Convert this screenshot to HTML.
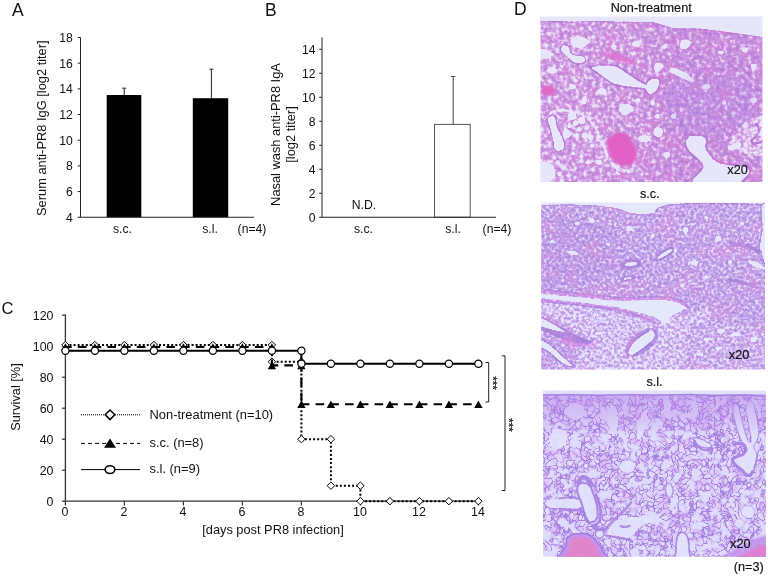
<!DOCTYPE html>
<html lang="en"><head><meta charset="utf-8"><title>Figure</title>
<style>html,body{margin:0;padding:0;background:#fff}body{width:768px;height:576px;overflow:hidden}svg{display:block}svg text{font-family:'Liberation Sans', Arial, sans-serif;fill:#111}</style>
</head><body>
<svg width="768" height="576" viewBox="0 0 768 576">
<rect width="768" height="576" fill="#fff"/>
<g id="chartA">
<text x="12" y="15.5" font-size="17.5" text-anchor="start">A</text>
<rect x="106.7" y="95" width="34.6" height="122.25" fill="#000"/>
<rect x="192.8" y="98.2" width="35.4" height="119.05" fill="#000"/>
<path d="M124.2 95V88.2M122.2 88.2h4" stroke="#222" stroke-width="1" fill="none"/>
<path d="M211.4 98V69.2M209.4 69.2h4" stroke="#222" stroke-width="1" fill="none"/>
<path d="M80.5 37.5V217.25H254" stroke="#222" stroke-width="1" fill="none"/>
<path d="M77.7 37.50H80.5" stroke="#222" stroke-width="1"/>
<text x="72.8" y="41.9" font-size="12.2" text-anchor="end">18</text>
<path d="M77.7 63.18H80.5" stroke="#222" stroke-width="1"/>
<text x="72.8" y="67.58" font-size="12.2" text-anchor="end">16</text>
<path d="M77.7 88.86H80.5" stroke="#222" stroke-width="1"/>
<text x="72.8" y="93.26" font-size="12.2" text-anchor="end">14</text>
<path d="M77.7 114.54H80.5" stroke="#222" stroke-width="1"/>
<text x="72.8" y="118.94" font-size="12.2" text-anchor="end">12</text>
<path d="M77.7 140.21H80.5" stroke="#222" stroke-width="1"/>
<text x="72.8" y="144.61" font-size="12.2" text-anchor="end">10</text>
<path d="M77.7 165.89H80.5" stroke="#222" stroke-width="1"/>
<text x="72.8" y="170.29" font-size="12.2" text-anchor="end">8</text>
<path d="M77.7 191.57H80.5" stroke="#222" stroke-width="1"/>
<text x="72.8" y="195.97" font-size="12.2" text-anchor="end">6</text>
<path d="M77.7 217.25H80.5" stroke="#222" stroke-width="1"/>
<text x="72.8" y="221.65" font-size="12.2" text-anchor="end">4</text>
<text x="122.5" y="233" font-size="12.2" text-anchor="middle">s.c.</text>
<text x="210" y="233" font-size="12.2" text-anchor="middle">s.l.</text>
<text x="252" y="233" font-size="12.2" text-anchor="middle">(n=4)</text>
<text x="46" y="128.2" font-size="12.85" text-anchor="middle" transform="rotate(-90 46 128.2)">Serum anti-PR8 IgG [log2 titer]</text>
</g>
<g id="chartB">
<text x="265" y="15.5" font-size="17.5" text-anchor="start">B</text>
<rect x="434.5" y="124.4" width="35.7" height="92.85" fill="#fff" stroke="#555" stroke-width="1"/>
<path d="M453.2 124V76.6M451 76.6h4.4" stroke="#444" stroke-width="1" fill="none"/>
<path d="M322 37.5V217.25H496" stroke="#222" stroke-width="1" fill="none"/>
<path d="M319.2 217.25H322" stroke="#222" stroke-width="1"/>
<text x="315.5" y="221.65" font-size="12.2" text-anchor="end">0</text>
<path d="M319.2 193.25H322" stroke="#222" stroke-width="1"/>
<text x="315.5" y="197.65" font-size="12.2" text-anchor="end">2</text>
<path d="M319.2 169.25H322" stroke="#222" stroke-width="1"/>
<text x="315.5" y="173.65" font-size="12.2" text-anchor="end">4</text>
<path d="M319.2 145.25H322" stroke="#222" stroke-width="1"/>
<text x="315.5" y="149.65" font-size="12.2" text-anchor="end">6</text>
<path d="M319.2 121.25H322" stroke="#222" stroke-width="1"/>
<text x="315.5" y="125.65" font-size="12.2" text-anchor="end">8</text>
<path d="M319.2 97.25H322" stroke="#222" stroke-width="1"/>
<text x="315.5" y="101.65" font-size="12.2" text-anchor="end">10</text>
<path d="M319.2 73.25H322" stroke="#222" stroke-width="1"/>
<text x="315.5" y="77.65" font-size="12.2" text-anchor="end">12</text>
<path d="M319.2 49.25H322" stroke="#222" stroke-width="1"/>
<text x="315.5" y="53.65" font-size="12.2" text-anchor="end">14</text>
<text x="364" y="208.5" font-size="12.2" text-anchor="middle">N.D.</text>
<text x="363.5" y="233" font-size="12.2" text-anchor="middle">s.c.</text>
<text x="453" y="233" font-size="12.2" text-anchor="middle">s.l.</text>
<text x="497" y="233" font-size="12.2" text-anchor="middle">(n=4)</text>
<text x="280" y="134.5" font-size="12.85" text-anchor="middle" transform="rotate(-90 280 134.5)">Nasal wash anti-PR8 IgA</text>
<text x="295" y="134.5" font-size="12.85" text-anchor="middle" transform="rotate(-90 295 134.5)">[log2 titer]</text>
</g>
<g id="chartC">
<text x="1.6" y="313.8" font-size="16.6" text-anchor="start">C</text>
<path d="M65.4 314.5V501.2H479" stroke="#333" stroke-width="1.3" fill="none"/>
<path d="M61.900000000000006 501.2H65.4" stroke="#333" stroke-width="1.2"/>
<text x="53.5" y="505.6" font-size="12.4" text-anchor="end">0</text>
<path d="M61.900000000000006 470.2H65.4" stroke="#333" stroke-width="1.2"/>
<text x="53.5" y="474.6" font-size="12.4" text-anchor="end">20</text>
<path d="M61.900000000000006 439.2H65.4" stroke="#333" stroke-width="1.2"/>
<text x="53.5" y="443.6" font-size="12.4" text-anchor="end">40</text>
<path d="M61.900000000000006 408.2H65.4" stroke="#333" stroke-width="1.2"/>
<text x="53.5" y="412.6" font-size="12.4" text-anchor="end">60</text>
<path d="M61.900000000000006 377.2H65.4" stroke="#333" stroke-width="1.2"/>
<text x="53.5" y="381.6" font-size="12.4" text-anchor="end">80</text>
<path d="M61.900000000000006 346.2H65.4" stroke="#333" stroke-width="1.2"/>
<text x="53.5" y="350.6" font-size="12.4" text-anchor="end">100</text>
<path d="M61.900000000000006 315.2H65.4" stroke="#333" stroke-width="1.2"/>
<text x="53.5" y="319.6" font-size="12.4" text-anchor="end">120</text>
<path d="M65.4 501.2v4.3" stroke="#333" stroke-width="1.2"/>
<text x="65.0" y="516.3" font-size="12.4" text-anchor="middle">0</text>
<path d="M124.4 501.2v4.3" stroke="#333" stroke-width="1.2"/>
<text x="124.0" y="516.3" font-size="12.4" text-anchor="middle">2</text>
<path d="M183.4 501.2v4.3" stroke="#333" stroke-width="1.2"/>
<text x="183.0" y="516.3" font-size="12.4" text-anchor="middle">4</text>
<path d="M242.4 501.2v4.3" stroke="#333" stroke-width="1.2"/>
<text x="242.0" y="516.3" font-size="12.4" text-anchor="middle">6</text>
<path d="M301.4 501.2v4.3" stroke="#333" stroke-width="1.2"/>
<text x="301.0" y="516.3" font-size="12.4" text-anchor="middle">8</text>
<path d="M360.4 501.2v4.3" stroke="#333" stroke-width="1.2"/>
<text x="360.0" y="516.3" font-size="12.4" text-anchor="middle">10</text>
<path d="M419.4 501.2v4.3" stroke="#333" stroke-width="1.2"/>
<text x="419.0" y="516.3" font-size="12.4" text-anchor="middle">12</text>
<path d="M478.4 501.2v4.3" stroke="#333" stroke-width="1.2"/>
<text x="478.0" y="516.3" font-size="12.4" text-anchor="middle">14</text>
<text x="273" y="534" font-size="12.8" text-anchor="middle">[days post PR8 infection]</text>
<text x="20.2" y="397" font-size="12.8" text-anchor="middle" transform="rotate(-90 20.2 397)">Survival [%]</text>
<path d="M65.4 345.0H271.9V361.7H301.4V439.2H330.9V485.7H360.4V501.2H478.4" stroke="#000" stroke-width="2" fill="none" stroke-dasharray="2 2.07"/>
<path d="M61.7 345.0L65.4 341.3L69.10000000000001 345.0L65.4 348.7Z" fill="#fff" stroke="#000" stroke-width="1"/>
<path d="M91.2 345.0L94.9 341.3L98.60000000000001 345.0L94.9 348.7Z" fill="#fff" stroke="#000" stroke-width="1"/>
<path d="M120.7 345.0L124.4 341.3L128.1 345.0L124.4 348.7Z" fill="#fff" stroke="#000" stroke-width="1"/>
<path d="M150.20000000000002 345.0L153.9 341.3L157.6 345.0L153.9 348.7Z" fill="#fff" stroke="#000" stroke-width="1"/>
<path d="M179.70000000000002 345.0L183.4 341.3L187.1 345.0L183.4 348.7Z" fill="#fff" stroke="#000" stroke-width="1"/>
<path d="M209.20000000000002 345.0L212.9 341.3L216.6 345.0L212.9 348.7Z" fill="#fff" stroke="#000" stroke-width="1"/>
<path d="M238.70000000000002 345.0L242.4 341.3L246.1 345.0L242.4 348.7Z" fill="#fff" stroke="#000" stroke-width="1"/>
<path d="M268.2 345.0L271.9 341.3L275.59999999999997 345.0L271.9 348.7Z" fill="#fff" stroke="#000" stroke-width="1"/>
<path d="M268.2 361.7L271.9 358.0L275.59999999999997 361.7L271.9 365.4Z" fill="#fff" stroke="#000" stroke-width="1"/>
<path d="M297.7 361.7L301.4 358.0L305.09999999999997 361.7L301.4 365.4Z" fill="#fff" stroke="#000" stroke-width="1"/>
<path d="M297.7 439.2L301.4 435.5L305.09999999999997 439.2L301.4 442.9Z" fill="#fff" stroke="#000" stroke-width="1"/>
<path d="M327.2 439.2L330.9 435.5L334.59999999999997 439.2L330.9 442.9Z" fill="#fff" stroke="#000" stroke-width="1"/>
<path d="M327.2 485.7L330.9 482.0L334.59999999999997 485.7L330.9 489.4Z" fill="#fff" stroke="#000" stroke-width="1"/>
<path d="M356.7 485.7L360.4 482.0L364.09999999999997 485.7L360.4 489.4Z" fill="#fff" stroke="#000" stroke-width="1"/>
<path d="M356.7 501.2L360.4 497.5L364.09999999999997 501.2L360.4 504.9Z" fill="#fff" stroke="#000" stroke-width="1"/>
<path d="M386.2 501.2L389.9 497.5L393.59999999999997 501.2L389.9 504.9Z" fill="#fff" stroke="#000" stroke-width="1"/>
<path d="M415.7 501.2L419.4 497.5L423.09999999999997 501.2L419.4 504.9Z" fill="#fff" stroke="#000" stroke-width="1"/>
<path d="M445.2 501.2L448.9 497.5L452.59999999999997 501.2L448.9 504.9Z" fill="#fff" stroke="#000" stroke-width="1"/>
<path d="M474.7 501.2L478.4 497.5L482.09999999999997 501.2L478.4 504.9Z" fill="#fff" stroke="#000" stroke-width="1"/>
<path d="M65.4 347.0H271.9" stroke="#000" stroke-width="2.1" fill="none" stroke-dasharray="8.6 6.15" stroke-dashoffset="2.3"/>
<path d="M271.9 347.0V365.4" stroke="#000" stroke-width="2.1" fill="none" stroke-dasharray="8.6 6.15" stroke-dashoffset="2.3"/>
<path d="M271.9 365.4H301.4" stroke="#000" stroke-width="2.1" fill="none" stroke-dasharray="8.6 6.15" stroke-dashoffset="2.3"/>
<path d="M301.4 365.4V404.3" stroke="#000" stroke-width="2.1" fill="none" stroke-dasharray="8.6 6.15" stroke-dashoffset="2.3"/>
<path d="M301.4 404.3H478.4" stroke="#000" stroke-width="2.1" fill="none" stroke-dasharray="8.6 6.15" stroke-dashoffset="0.6"/>
<path d="M61.25000000000001 350.75L65.4 343.25L69.55000000000001 350.75Z" fill="#000"/>
<path d="M90.75 350.75L94.9 343.25L99.05000000000001 350.75Z" fill="#000"/>
<path d="M120.25 350.75L124.4 343.25L128.55 350.75Z" fill="#000"/>
<path d="M149.75 350.75L153.9 343.25L158.05 350.75Z" fill="#000"/>
<path d="M179.25 350.75L183.4 343.25L187.55 350.75Z" fill="#000"/>
<path d="M208.75 350.75L212.9 343.25L217.05 350.75Z" fill="#000"/>
<path d="M238.25 350.75L242.4 343.25L246.55 350.75Z" fill="#000"/>
<path d="M267.75 350.75L271.9 343.25L276.04999999999995 350.75Z" fill="#000"/>
<path d="M267.75 369.15L271.9 361.65L276.04999999999995 369.15Z" fill="#000"/>
<path d="M297.25 369.15L301.4 361.65L305.54999999999995 369.15Z" fill="#000"/>
<path d="M297.25 408.05L301.4 400.55L305.54999999999995 408.05Z" fill="#000"/>
<path d="M326.75 408.05L330.9 400.55L335.04999999999995 408.05Z" fill="#000"/>
<path d="M356.25 408.05L360.4 400.55L364.54999999999995 408.05Z" fill="#000"/>
<path d="M385.75 408.05L389.9 400.55L394.04999999999995 408.05Z" fill="#000"/>
<path d="M415.25 408.05L419.4 400.55L423.54999999999995 408.05Z" fill="#000"/>
<path d="M444.75 408.05L448.9 400.55L453.04999999999995 408.05Z" fill="#000"/>
<path d="M474.25 408.05L478.4 400.55L482.54999999999995 408.05Z" fill="#000"/>
<path d="M65.4 350.8H301.4V363.7H478.4" stroke="#000" stroke-width="2.1" fill="none"/>
<circle cx="65.4" cy="350.8" r="3.6" fill="#fff" stroke="#000" stroke-width="1.2"/>
<circle cx="94.9" cy="350.8" r="3.6" fill="#fff" stroke="#000" stroke-width="1.2"/>
<circle cx="124.4" cy="350.8" r="3.6" fill="#fff" stroke="#000" stroke-width="1.2"/>
<circle cx="153.9" cy="350.8" r="3.6" fill="#fff" stroke="#000" stroke-width="1.2"/>
<circle cx="183.4" cy="350.8" r="3.6" fill="#fff" stroke="#000" stroke-width="1.2"/>
<circle cx="212.9" cy="350.8" r="3.6" fill="#fff" stroke="#000" stroke-width="1.2"/>
<circle cx="242.4" cy="350.8" r="3.6" fill="#fff" stroke="#000" stroke-width="1.2"/>
<circle cx="271.9" cy="350.8" r="3.6" fill="#fff" stroke="#000" stroke-width="1.2"/>
<circle cx="301.4" cy="350.8" r="3.6" fill="#fff" stroke="#000" stroke-width="1.2"/>
<circle cx="301.4" cy="363.7" r="3.6" fill="#fff" stroke="#000" stroke-width="1.2"/>
<circle cx="330.9" cy="363.7" r="3.6" fill="#fff" stroke="#000" stroke-width="1.2"/>
<circle cx="360.4" cy="363.7" r="3.6" fill="#fff" stroke="#000" stroke-width="1.2"/>
<circle cx="389.9" cy="363.7" r="3.6" fill="#fff" stroke="#000" stroke-width="1.2"/>
<circle cx="419.4" cy="363.7" r="3.6" fill="#fff" stroke="#000" stroke-width="1.2"/>
<circle cx="448.9" cy="363.7" r="3.6" fill="#fff" stroke="#000" stroke-width="1.2"/>
<circle cx="478.4" cy="363.7" r="3.6" fill="#fff" stroke="#000" stroke-width="1.2"/>
<path d="M81 414.8H140" stroke="#000" stroke-width="1" stroke-dasharray="1 1"/>
<path d="M105.2 414.8L110 410.0L114.8 414.8L110 419.6Z" fill="#fff" stroke="#000" stroke-width="1.5"/>
<path d="M81 443.4H140" stroke="#000" stroke-width="1" stroke-dasharray="4 3"/>
<path d="M104 447.8L110 438.4L116 447.8Z" fill="#000"/>
<path d="M81 469.6H140" stroke="#000" stroke-width="1"/>
<ellipse cx="110" cy="469.6" rx="4.9" ry="3.9" fill="#fff" stroke="#000" stroke-width="1.6"/>
<text x="149.5" y="419.2" font-size="12.9" text-anchor="start">Non-treatment (n=10)</text>
<text x="149.5" y="446.5" font-size="12.9" text-anchor="start">s.c. (n=8)</text>
<text x="149.5" y="472.5" font-size="12.9" text-anchor="start">s.l. (n=9)</text>
<path d="M485.5 362.5h3.2V402h-3.2" stroke="#222" stroke-width="1" fill="none"/>
<path d="M501.8 355.8h3.2V490.5h-3.2" stroke="#222" stroke-width="1" fill="none"/>
<text x="489.2" y="383" font-size="11.5" text-anchor="middle" transform="rotate(90 489.2 383)" stroke="#111" stroke-width="0.3">***</text>
<text x="505" y="425" font-size="11.5" text-anchor="middle" transform="rotate(90 505 425)" stroke="#111" stroke-width="0.3">***</text>
</g>
<g id="panelD">
<defs>
<filter id="gm1" filterUnits="userSpaceOnUse" x="540" y="16" width="224" height="167" color-interpolation-filters="sRGB"><feTurbulence type="fractalNoise" baseFrequency="0.25" numOctaves="3" seed="3" result="n"/><feColorMatrix in="n" type="matrix" values="1.45 0 0 0 -0.225  1.45 0 0 0 -0.225  1.45 0 0 0 -0.225  0 0 0 0 1" result="nn"/><feGaussianBlur in="SourceGraphic" stdDeviation="0.45" result="src"/><feComposite in="src" in2="nn" operator="arithmetic" k1="0" k2="1.6" k3="1" k4="-0.8" result="L"/><feComponentTransfer in="L" result="base"><feFuncR type="table" tableValues="0.690 0.701 0.711 0.722 0.732 0.742 0.753 0.763 0.773 0.782 0.792 0.808 0.825 0.842 0.860 0.877 0.892 0.907 0.912 0.914 0.902"/><feFuncG type="table" tableValues="0.478 0.488 0.497 0.506 0.515 0.524 0.533 0.545 0.557 0.569 0.580 0.607 0.633 0.667 0.706 0.746 0.788 0.831 0.865 0.898 0.902"/><feFuncB type="table" tableValues="0.839 0.843 0.847 0.851 0.855 0.859 0.863 0.867 0.871 0.875 0.878 0.888 0.898 0.910 0.923 0.936 0.951 0.966 0.976 0.984 0.988"/></feComponentTransfer><feTurbulence type="fractalNoise" baseFrequency="0.06" numOctaves="2" seed="5" result="tn"/><feColorMatrix in="tn" type="matrix" values="0 0 0 0 0.894  0 0 0 0 0.502  0 0 0 0 0.831  0 4.0 0 0 -1.9" result="T"/><feColorMatrix in="L" type="matrix" values="0 0 0 0 1  0 0 0 0 1  0 0 0 0 1  -6 0 0 0 3.720" result="M"/><feComposite in="T" in2="M" operator="arithmetic" k1="0.45" k2="0" k3="0" k4="0" result="TM"/><feMerge><feMergeNode in="base"/><feMergeNode in="TM"/></feMerge></filter>
<filter id="pk1" filterUnits="userSpaceOnUse" x="540" y="16" width="224" height="167" color-interpolation-filters="sRGB"><feTurbulence type="fractalNoise" baseFrequency="0.07" numOctaves="2" seed="5" result="n"/><feColorMatrix in="n" type="matrix" values="0 0 0 0 0.910  0 0 0 0 0.408  0 0 0 0 0.753  0 3.0 0 0 -1.45"/></filter>
<filter id="gm2" filterUnits="userSpaceOnUse" x="540" y="202" width="226" height="168" color-interpolation-filters="sRGB"><feTurbulence type="fractalNoise" baseFrequency="0.34" numOctaves="3" seed="7" result="n"/><feColorMatrix in="n" type="matrix" values="1.55 0 0 0 -0.275  1.55 0 0 0 -0.275  1.55 0 0 0 -0.275  0 0 0 0 1" result="nn"/><feGaussianBlur in="SourceGraphic" stdDeviation="0.45" result="src"/><feComposite in="src" in2="nn" operator="arithmetic" k1="0" k2="1.6" k3="1" k4="-0.8" result="L"/><feComponentTransfer in="L" result="base"><feFuncR type="table" tableValues="0.643 0.656 0.669 0.682 0.695 0.708 0.722 0.733 0.745 0.757 0.769 0.785 0.801 0.822 0.844 0.866 0.884 0.902 0.904 0.902 0.894"/><feFuncG type="table" tableValues="0.518 0.529 0.541 0.553 0.565 0.576 0.588 0.602 0.616 0.629 0.643 0.669 0.695 0.730 0.771 0.810 0.841 0.872 0.889 0.902 0.910"/><feFuncB type="table" tableValues="0.863 0.868 0.873 0.878 0.884 0.889 0.894 0.900 0.906 0.912 0.918 0.927 0.937 0.948 0.959 0.970 0.976 0.983 0.986 0.988 0.988"/></feComponentTransfer><feTurbulence type="fractalNoise" baseFrequency="0.05" numOctaves="2" seed="9" result="tn"/><feColorMatrix in="tn" type="matrix" values="0 0 0 0 0.847  0 0 0 0 0.565  0 0 0 0 0.863  0 4.0 0 0 -1.9" result="T"/><feColorMatrix in="L" type="matrix" values="0 0 0 0 1  0 0 0 0 1  0 0 0 0 1  -6 0 0 0 3.720" result="M"/><feComposite in="T" in2="M" operator="arithmetic" k1="0.6" k2="0" k3="0" k4="0" result="TM"/><feMerge><feMergeNode in="base"/><feMergeNode in="TM"/></feMerge></filter>
<filter id="pk2" filterUnits="userSpaceOnUse" x="540" y="202" width="226" height="168" color-interpolation-filters="sRGB"><feTurbulence type="fractalNoise" baseFrequency="0.06" numOctaves="2" seed="9" result="n"/><feColorMatrix in="n" type="matrix" values="0 0 0 0 0.847  0 0 0 0 0.471  0 0 0 0 0.784  0 3.0 0 0 -1.45"/></filter>
<filter id="gm3" filterUnits="userSpaceOnUse" x="542" y="390" width="225" height="167" color-interpolation-filters="sRGB"><feTurbulence type="fractalNoise" baseFrequency="0.165" numOctaves="1" seed="4" result="n"/><feGaussianBlur in="SourceGraphic" stdDeviation="0.4" result="src"/><feColorMatrix in="n" type="matrix" values="2.0 0 0 0 -0.500  2.0 0 0 0 -0.500  2.0 0 0 0 -0.500  0 0 0 0 1" result="nn0"/><feComposite in="src" in2="nn0" operator="arithmetic" k1="0" k2="1.6" k3="1" k4="-0.8" result="L0"/><feComponentTransfer in="L0" result="C0"><feFuncR type="table" tableValues="0.878 0.878 0.877 0.877 0.876 0.876 0.875 0.875 0.874 0.874 0.873 0.873 0.872 0.872 0.871 0.866 0.840 0.815 0.751 0.643 0.643 0.643 0.751 0.815 0.840 0.866 0.871 0.872 0.874 0.875 0.876 0.877 0.878 0.879 0.880 0.881 0.882 0.883 0.884 0.885 0.886"/><feFuncG type="table" tableValues="0.871 0.870 0.870 0.869 0.868 0.868 0.867 0.867 0.866 0.866 0.865 0.865 0.864 0.864 0.863 0.853 0.802 0.752 0.650 0.494 0.494 0.494 0.650 0.752 0.802 0.853 0.864 0.866 0.867 0.869 0.870 0.872 0.874 0.875 0.877 0.878 0.880 0.882 0.883 0.885 0.886"/><feFuncB type="table" tableValues="0.988 0.988 0.988 0.987 0.987 0.987 0.987 0.986 0.986 0.986 0.986 0.985 0.985 0.985 0.985 0.982 0.968 0.954 0.924 0.878 0.878 0.878 0.924 0.954 0.968 0.982 0.985 0.985 0.985 0.985 0.986 0.986 0.986 0.986 0.987 0.987 0.987 0.987 0.988 0.988 0.988"/></feComponentTransfer><feColorMatrix in="n" type="matrix" values="0 2.0 0 0 -0.500  0 2.0 0 0 -0.500  0 2.0 0 0 -0.500  0 0 0 0 1" result="nn1"/><feComposite in="src" in2="nn1" operator="arithmetic" k1="0" k2="1.6" k3="1" k4="-0.8" result="L1"/><feComponentTransfer in="L1" result="C1"><feFuncR type="table" tableValues="0.878 0.878 0.877 0.877 0.876 0.876 0.875 0.875 0.874 0.874 0.873 0.873 0.872 0.872 0.871 0.866 0.840 0.815 0.751 0.643 0.643 0.643 0.751 0.815 0.840 0.866 0.871 0.872 0.874 0.875 0.876 0.877 0.878 0.879 0.880 0.881 0.882 0.883 0.884 0.885 0.886"/><feFuncG type="table" tableValues="0.871 0.870 0.870 0.869 0.868 0.868 0.867 0.867 0.866 0.866 0.865 0.865 0.864 0.864 0.863 0.853 0.802 0.752 0.650 0.494 0.494 0.494 0.650 0.752 0.802 0.853 0.864 0.866 0.867 0.869 0.870 0.872 0.874 0.875 0.877 0.878 0.880 0.882 0.883 0.885 0.886"/><feFuncB type="table" tableValues="0.988 0.988 0.988 0.987 0.987 0.987 0.987 0.986 0.986 0.986 0.986 0.985 0.985 0.985 0.985 0.982 0.968 0.954 0.924 0.878 0.878 0.878 0.924 0.954 0.968 0.982 0.985 0.985 0.985 0.985 0.986 0.986 0.986 0.986 0.987 0.987 0.987 0.987 0.988 0.988 0.988"/></feComponentTransfer><feBlend in="C0" in2="C1" mode="darken" result="web"/><feTurbulence type="fractalNoise" baseFrequency="0.1" numOctaves="2" seed="12" result="lf"/><feColorMatrix in="lf" type="matrix" values="0 0 0 0 0.800  0 0 0 0 0.580  0 0 0 0 0.918  0 5 0 0 -2.2" result="T"/><feColorMatrix in="src" type="matrix" values="0 0 0 0 1  0 0 0 0 1  0 0 0 0 1  -5 0 0 0 3.5" result="SM"/><feComposite in="T" in2="SM" operator="arithmetic" k1="0.35" k2="0" k3="0" k4="0" result="TM"/><feColorMatrix in="lf" type="matrix" values="0 0 0 0 0.871  0 0 0 0 0.863  0 0 0 0 0.984  9 0 0 0 -5.0" result="D"/><feMerge><feMergeNode in="web"/><feMergeNode in="TM"/><feMergeNode in="D"/></feMerge></filter>
<clipPath id="c1"><rect x="540.5" y="16.4" width="222" height="165.6"/></clipPath>
<clipPath id="c2"><rect x="541.2" y="202.5" width="223.8" height="167.1"/></clipPath>
<clipPath id="c3"><rect x="543" y="390.6" width="222.9" height="166.1"/></clipPath>
<linearGradient id="hg1" x1="0" x2="1" y1="0" y2="0"><stop offset="0" stop-color="#909090"/><stop offset="0.42" stop-color="#8a8a8a"/><stop offset="0.6" stop-color="#7a7a7a"/><stop offset="1" stop-color="#7c7c7c"/></linearGradient>
<linearGradient id="p3top" x1="0" x2="0" y1="0" y2="1"><stop offset="0" stop-color="#b686ea" stop-opacity="0.5"/><stop offset="0.6" stop-color="#b686ea" stop-opacity="0.28"/><stop offset="1" stop-color="#b686ea" stop-opacity="0"/></linearGradient>
<filter id="soft" x="-20%" y="-20%" width="140%" height="140%"><feGaussianBlur stdDeviation="20"/></filter>
<filter id="soft2" x="-20%" y="-20%" width="140%" height="140%"><feGaussianBlur stdDeviation="3"/></filter>
<filter id="soft3" x="-20%" y="-20%" width="140%" height="140%"><feGaussianBlur stdDeviation="0.9"/></filter>
</defs>
<text x="514" y="15" font-size="17.5" text-anchor="start">D</text>
<text x="651.2" y="12.3" font-size="12.7" text-anchor="middle" stroke="#111" stroke-width="0.18">Non-treatment</text>
<text x="649.8" y="197.6" font-size="12.7" text-anchor="middle" stroke="#111" stroke-width="0.18">s.c.</text>
<text x="654.5" y="386.2" font-size="12.7" text-anchor="middle" stroke="#111" stroke-width="0.18">s.l.</text>
<text x="748.8" y="571.1" font-size="12.7" text-anchor="middle" stroke="#111" stroke-width="0.18">(n=3)</text>
<g clip-path="url(#c1)">
<g filter="url(#gm1)">
<rect x="540" y="16" width="224" height="167" fill="url(#hg1)"/>
<g transform="translate(540 14) scale(0.29688)">
<path d="M0 0H768V82L746 78L686 70L610 59L535 50L449 50L414 38L380 29L300 28L240 26L180 25L100 27L40 25L0 26Z" fill="#ffffff" stroke="#383838" stroke-width="3"/>
<path d="M168 182C190 168 230 168 262 176C300 200 330 225 356 236C362 222 372 214 388 214C402 216 408 226 402 240C398 256 390 270 370 274C360 270 356 256 352 252C320 250 280 246 250 238C225 225 195 200 168 182Z" fill="#ffffff" stroke="#383838" stroke-width="6"/>
<path d="M388 168C396 160 412 164 416 176C410 190 398 198 388 194C382 186 384 176 388 168Z" fill="#ffffff"/>
<path d="M72.0 110.0C77.3 102.0 78.7 102.7 88.0 104.0C97.3 105.3 94.7 105.3 100.0 114.0C105.3 122.7 97.3 122.0 104.0 130.0C110.7 138.0 108.0 134.7 120.0 138.0C132.0 141.3 129.3 136.0 140.0 140.0C150.7 144.0 148.7 142.7 152.0 150.0C155.3 157.3 156.7 156.0 150.0 162.0C143.3 168.0 145.3 168.0 132.0 168.0C118.7 168.0 122.0 168.0 110.0 162.0C98.0 156.0 104.7 158.0 96.0 150.0C87.3 142.0 92.0 145.3 84.0 138.0C76.0 130.7 76.0 137.3 72.0 128.0C68.0 118.7 66.7 118.0 72.0 110.0Z" fill="#ffffff" stroke="#383838" stroke-width="4"/>
<path d="M104 86C120 72 150 74 164 90C162 108 144 116 124 114C108 108 98 98 104 86Z" fill="#ffffff"/>
<ellipse cx="325" cy="100" rx="14" ry="10" fill="#ffffff"/>
<path d="M474 96C482 80 504 84 508 98C504 114 488 122 476 116C470 110 470 102 474 96Z" fill="#ffffff"/>
<path d="M270 312C282 298 306 302 314 316C312 332 296 342 280 338C268 332 264 322 270 312Z" fill="#ffffff"/>
<path d="M440 180C470 184 500 200 520 226C500 232 470 210 440 196Z" fill="#ffffff"/>
<path d="M0 120C14 116 36 124 42 138C32 152 10 152 0 148Z" fill="#ffffff"/>
<path d="M31.0 346.0C39.3 342.0 41.0 335.3 50.0 346.0C59.0 356.7 49.7 355.3 58.0 378.0C66.3 400.7 66.7 392.0 75.0 414.0C83.3 436.0 84.7 428.3 83.0 444.0C81.3 459.7 81.0 457.0 70.0 461.0C59.0 465.0 59.0 468.3 50.0 456.0C41.0 443.7 48.7 448.0 43.0 424.0C37.3 400.0 39.0 406.0 33.0 384.0C27.0 362.0 25.7 370.7 25.0 358.0C24.3 345.3 22.7 350.0 31.0 346.0Z" fill="#ffffff" stroke="#383838" stroke-width="4"/>
<path d="M30.0 338.0C40.0 334.0 33.3 329.3 60.0 326.0C86.7 322.7 79.7 322.3 110.0 328.0C140.3 333.7 129.0 329.7 151.0 343.0C173.0 356.3 162.7 351.0 176.0 368.0C189.3 385.0 183.3 377.0 191.0 394.0C198.7 411.0 196.3 410.7 199.0 419.0" fill="none" stroke="#cccccc" stroke-width="9"/>
<path d="M201.0 409.0C206.0 422.3 204.3 420.7 216.0 449.0C227.7 477.3 217.7 469.0 236.0 494.0C254.3 519.0 245.7 510.7 271.0 524.0C296.3 537.3 298.3 530.7 312.0 534.0" fill="none" stroke="#c7c7c7" stroke-width="11"/>
<circle cx="108" cy="343" r="14" fill="#ffffff"/>
<circle cx="141" cy="358" r="12" fill="#ffffff"/>
<circle cx="120" cy="367" r="9" fill="#ffffff"/>
<circle cx="90" cy="404" r="14" fill="#ffffff"/>
<circle cx="151" cy="409" r="10" fill="#ffffff"/>
<circle cx="171" cy="416" r="9" fill="#ffffff"/>
<circle cx="176" cy="444" r="7" fill="#ffffff"/>
<circle cx="123" cy="409" r="7" fill="#ffffff"/>
<circle cx="131" cy="388" r="7" fill="#ffffff"/>
<circle cx="100" cy="379" r="6" fill="#ffffff"/>
<circle cx="156" cy="384" r="7" fill="#ffffff"/>
<circle cx="60" cy="499" r="7.5" fill="#ffffff"/>
<circle cx="80" cy="519" r="7" fill="#ffffff"/>
<circle cx="65" cy="539" r="7" fill="#ffffff"/>
<circle cx="96" cy="544" r="6" fill="#ffffff"/>
<circle cx="75" cy="562" r="6" fill="#ffffff"/>
<circle cx="50" cy="484" r="5" fill="#ffffff"/>
<circle cx="112" cy="470" r="6" fill="#ffffff"/>
<circle cx="140" cy="480" r="6" fill="#ffffff"/>
<circle cx="120" cy="520" r="5" fill="#ffffff"/>
<circle cx="160" cy="500" r="6" fill="#ffffff"/>
<path d="M0.0 509.0C13.3 497.0 14.0 499.0 30.0 504.0C46.0 509.0 43.7 507.3 48.0 524.0C52.3 540.7 52.3 539.7 43.0 554.0C33.7 568.3 34.3 563.3 20.0 567.0C5.7 570.7 10.0 574.0 0.0 565.0C-10.0 556.0 -10.0 558.7 -10.0 540.0C-10.0 521.3 -13.3 521.0 0.0 509.0Z" fill="#ffffff"/>
<path d="M497.0 416.0C503.7 407.3 492.3 409.7 510.0 408.0C527.7 406.3 532.7 405.0 550.0 411.0C567.3 417.0 558.7 413.3 562.0 426.0C565.3 438.7 555.7 433.0 560.0 449.0C564.3 465.0 563.3 459.0 575.0 474.0C586.7 489.0 578.3 484.0 595.0 494.0C611.7 504.0 601.7 499.0 625.0 504.0C648.3 509.0 643.3 506.3 665.0 509.0C686.7 511.7 676.0 506.0 690.0 512.0C704.0 518.0 703.7 515.7 707.0 527.0C710.3 538.3 709.0 532.7 700.0 546.0C691.0 559.3 690.0 549.0 680.0 567.0C670.0 585.0 728.3 589.0 670.0 600.0C611.7 611.0 558.3 611.0 505.0 600.0C451.7 589.0 503.7 585.7 510.0 567.0C516.3 548.3 513.3 557.7 524.0 544.0C534.7 530.3 535.0 538.7 542.0 526.0C549.0 513.3 551.0 520.0 545.0 506.0C539.0 492.0 539.3 499.7 524.0 484.0C508.7 468.3 510.3 475.7 499.0 459.0C487.7 442.3 490.7 448.3 490.0 434.0C489.3 419.7 490.3 424.7 497.0 416.0Z" fill="#ffffff" stroke="#383838" stroke-width="6"/>
<path d="M635.0 449.0C638.3 428.7 645.0 426.7 665.0 398.0C685.0 369.3 671.3 379.7 695.0 363.0C718.7 346.3 714.3 351.7 736.0 348.0C757.7 344.3 752.0 318.3 760.0 352.0C768.0 385.7 771.3 406.7 760.0 449.0C748.7 491.3 750.7 472.3 726.0 479.0C701.3 485.7 709.7 475.7 686.0 469.0C662.3 462.3 672.0 465.7 655.0 459.0C638.0 452.3 631.7 469.3 635.0 449.0Z" fill="#ababab"/>
<path d="M635.0 449.0C641.7 441.7 657.3 434.0 670.0 434.0C682.7 434.0 679.7 441.7 673.0 449.0C666.3 456.3 662.7 456.0 650.0 456.0C637.3 456.0 628.3 456.3 635.0 449.0Z" fill="#ffffff"/>
<path d="M726.0 368.0C729.3 373.3 734.3 370.7 736.0 384.0C737.7 397.3 739.3 393.0 731.0 408.0C722.7 423.0 709.3 420.3 711.0 429.0C712.7 437.7 722.7 435.7 736.0 434.0C749.3 432.3 746.0 427.3 751.0 424.0" fill="none" stroke="#404040" stroke-width="7"/>
<path d="M742.0 392.0C744.7 380.7 749.3 380.0 756.0 386.0C762.7 392.0 764.7 398.7 762.0 410.0C759.3 421.3 754.7 426.0 748.0 420.0C741.3 414.0 739.3 403.3 742.0 392.0Z" fill="#ffffff"/>
<ellipse cx="398" cy="398" rx="16" ry="16" fill="#ffffff"/>
<ellipse cx="352" cy="420" rx="20" ry="12" fill="#ffffff"/>
<ellipse cx="210" cy="260" rx="14" ry="10" fill="#ffffff"/>
<ellipse cx="150" cy="290" rx="8" ry="14" fill="#ffffff"/>
<ellipse cx="560" cy="245" rx="12" ry="8" fill="#ffffff"/>
<ellipse cx="690" cy="120" rx="10" ry="8" fill="#ffffff"/>
<ellipse cx="720" cy="175" rx="10" ry="8" fill="#ffffff"/>
<ellipse cx="610" cy="130" rx="9" ry="7" fill="#ffffff"/>
<ellipse cx="250" cy="110" rx="9" ry="7" fill="#ffffff"/>
<ellipse cx="420" cy="110" rx="8" ry="8" fill="#ffffff"/>
<ellipse cx="40" cy="190" rx="16" ry="10" fill="#ffffff"/>
<ellipse cx="720" cy="290" rx="12" ry="8" fill="#ffffff"/>
<ellipse cx="620" cy="300" rx="8" ry="6" fill="#ffffff"/>
<ellipse cx="450" cy="345" rx="8" ry="8" fill="#ffffff"/>
<ellipse cx="330" cy="290" rx="8" ry="6" fill="#ffffff"/>
<ellipse cx="380" cy="300" rx="8" ry="8" fill="#ffffff"/>
<ellipse cx="427" cy="474" rx="12" ry="9" fill="#ffffff"/>
<ellipse cx="395" cy="345" rx="8" ry="8" fill="#ffffff"/>
<ellipse cx="110" cy="245" rx="10" ry="8" fill="#ffffff"/>
<ellipse cx="120" cy="225" rx="8" ry="6" fill="#ffffff"/>
<ellipse cx="200" cy="500" rx="10" ry="8" fill="#ffffff"/>
</g></g>
<g transform="translate(540 14) scale(0.29688)">
<path d="M420 250C480 200 600 180 700 220C760 260 740 340 680 380C600 420 520 400 470 380C420 350 400 300 420 250Z" fill="#9c8cf0" opacity="0.14" filter="url(#soft)"/>
<path d="M236.0 416.0C252.7 396.7 255.7 395.0 281.0 401.0C306.3 407.0 298.3 406.3 312.0 434.0C325.7 461.7 327.0 459.0 322.0 484.0C317.0 509.0 317.3 502.3 297.0 509.0C276.7 515.7 283.0 520.7 261.0 504.0C239.0 487.3 239.3 488.3 231.0 459.0C222.7 429.7 219.3 435.3 236.0 416.0Z" fill="#e060c4" filter="url(#soft2)"/>
<ellipse cx="28" cy="258" rx="26" ry="18" fill="#e068c8" filter="url(#soft2)"/>
<path d="M215 128C250 120 290 138 330 168C300 172 250 158 215 140Z" fill="#e070d0" opacity="0.75" filter="url(#soft2)"/>
</g></g>
<g clip-path="url(#c2)">
<g filter="url(#gm2)">
<rect x="540" y="202" width="226" height="168" fill="#808080"/>
<g transform="translate(540 200) scale(0.29688)">
<path d="M0 60C80 50 200 60 260 120C280 200 240 270 120 290L0 290Z" fill="#757575"/>
<path d="M0 345C100 350 250 370 330 400C420 420 520 380 560 360C600 380 560 430 520 470C500 520 470 560 460 600H120C110 540 140 490 200 470C120 450 60 400 0 380Z" fill="#9c9c9c"/>
<path d="M500 420C560 400 680 420 768 440V600H480Z" fill="#8c8c8c"/>
<path d="M0 0H768V14L600 12L500 12L430 16L395 28L385 46L340 50L300 44L262 30L200 20L100 16L0 18Z" fill="#ffffff" stroke="#333333" stroke-width="3"/>
<path d="M768 0V240L752 205L738 160L748 100L744 20Z" fill="#ffffff" stroke="#333333" stroke-width="4"/>
<path d="M0 316C60 322 160 332 250 340C300 344 330 336 400 338C440 338 470 344 492 364C470 380 450 384 440 392C436 404 428 416 412 414C404 404 396 396 380 392C340 380 290 366 240 358C150 346 70 336 0 330Z" fill="#ffffff"/>
<path d="M0 300C60 306 160 318 250 328C300 334 330 324 400 326C440 326 480 336 500 360" fill="none" stroke="#4c4c4c" stroke-width="6"/>
<path d="M0 340C80 348 160 356 250 368C300 378 350 392 400 420" fill="none" stroke="#4c4c4c" stroke-width="5"/>
<path d="M0 392C30 400 70 425 100 445C140 470 170 470 180 480C150 490 100 480 60 462C30 450 10 440 0 436Z" fill="#1f1f1f"/>
<path d="M0 396C30 408 60 428 88 446C60 444 30 432 0 424Z" fill="#ffffff"/>
<path d="M0 468C30 478 50 500 70 520C90 540 110 548 112 562C90 566 70 550 50 530C30 512 10 500 0 498Z" fill="#ffffff" stroke="#333333" stroke-width="5"/>
<ellipse cx="342" cy="480" rx="66" ry="34" transform="rotate(-38 342 480)" fill="#4c4c4c"/>
<ellipse cx="342" cy="480" rx="54" ry="24" transform="rotate(-38 342 480)" fill="#141414"/>
<path d="M298 514C300 490 330 462 372 440C388 440 390 456 380 470C356 492 330 512 310 522C302 522 298 520 298 514Z" fill="#ffffff"/>
<ellipse cx="306" cy="216" rx="36" ry="18" transform="rotate(-8 306 216)" fill="#333333"/>
<ellipse cx="306" cy="216" rx="22" ry="6" transform="rotate(-8 306 216)" fill="#ffffff"/>
<ellipse cx="420" cy="182" rx="38" ry="14" transform="rotate(-32 420 182)" fill="#404040"/>
<ellipse cx="420" cy="182" rx="28" ry="6" transform="rotate(-32 420 182)" fill="#ffffff"/>
<ellipse cx="110" cy="178" rx="18" ry="6" transform="rotate(12 110 178)" fill="#ffffff"/>
<ellipse cx="296" cy="264" rx="26" ry="9" transform="rotate(-10 296 264)" fill="#404040"/>
<ellipse cx="296" cy="264" rx="14" ry="3" transform="rotate(-10 296 264)" fill="#ffffff"/>
<path d="M640 150C680 150 720 160 745 180" fill="none" stroke="#2e2e2e" stroke-width="12"/>
<path d="M630 268C670 272 700 284 735 296" fill="none" stroke="#333333" stroke-width="10"/>
<path d="M700 206C720 200 745 215 760 232C740 232 715 222 700 206Z" fill="#ffffff"/>
<ellipse cx="600" cy="130" rx="10" ry="10" fill="#ffffff"/>
<ellipse cx="520" cy="212" rx="12" ry="8" fill="#ffffff"/>
<ellipse cx="490" cy="100" rx="8" ry="10" fill="#ffffff"/>
<ellipse cx="300" cy="96" rx="9" ry="9" fill="#ffffff"/>
<ellipse cx="175" cy="70" rx="8" ry="8" fill="#ffffff"/>
<ellipse cx="125" cy="78" rx="8" ry="6" fill="#ffffff"/>
<ellipse cx="560" cy="260" rx="8" ry="6" fill="#ffffff"/>
<ellipse cx="610" cy="440" rx="14" ry="6" fill="#ffffff"/>
<ellipse cx="660" cy="452" rx="16" ry="6" fill="#ffffff"/>
<ellipse cx="560" cy="470" rx="10" ry="6" fill="#ffffff"/>
<ellipse cx="720" cy="470" rx="10" ry="8" fill="#ffffff"/>
<ellipse cx="540" cy="520" rx="10" ry="6" fill="#ffffff"/>
<ellipse cx="600" cy="500" rx="9" ry="6" fill="#ffffff"/>
<ellipse cx="456" cy="170" rx="6" ry="6" fill="#ffffff"/>
<ellipse cx="40" cy="140" rx="6" ry="5" fill="#ffffff"/>
<ellipse cx="230" cy="150" rx="6" ry="5" fill="#ffffff"/>
<ellipse cx="380" cy="120" rx="6" ry="6" fill="#ffffff"/>
<ellipse cx="560" cy="60" rx="6" ry="6" fill="#ffffff"/>
<ellipse cx="680" cy="80" rx="7" ry="6" fill="#ffffff"/>
<ellipse cx="640" cy="210" rx="6" ry="6" fill="#ffffff"/>
<ellipse cx="480" cy="290" rx="8" ry="5" fill="#ffffff"/>
<ellipse cx="200" cy="310" rx="7" ry="4" fill="#ffffff"/>
</g></g>
<g transform="translate(540 200) scale(0.29688)" opacity="0.55" fill="none" stroke="#e088ea">
<path d="M0 306C60 312 160 324 250 334C300 340 330 330 400 332C440 332 476 340 496 362" stroke-width="5"/>
<path d="M0 336C80 344 160 352 250 364C300 374 350 388 400 414" stroke-width="4"/>
<path d="M60 470C100 486 150 492 190 486" stroke-width="10"/>
</g>
</g>
<g clip-path="url(#c3)">
<g filter="url(#gm3)">
<rect x="542" y="390" width="225" height="167" fill="#808080"/>
<path d="M540 388H768V396.5L745 395L715 395.6L690 394.4L660 395.2L630 394.6L600 395.4L570 394.6L540 395Z" fill="#ffffff"/>
<path d="M583.3 483.2C586.5 483.7 586.0 482.2 589.3 485.4C592.5 488.7 590.7 487.4 593.0 492.9C595.2 498.4 594.5 495.9 596.0 501.9C597.5 507.8 597.2 505.3 597.5 510.8C597.7 516.3 598.5 514.5 596.7 518.3C595.0 522.0 595.5 521.0 592.2 522.0C589.0 523.0 589.5 523.0 587.0 521.3C584.5 519.5 586.0 520.8 584.8 516.8C583.5 512.8 584.5 514.3 583.3 509.3C582.0 504.3 582.8 506.8 581.0 501.9C579.3 496.9 579.3 498.9 578.1 494.4C576.8 489.9 576.8 491.9 577.3 488.4C577.8 484.9 577.6 485.7 579.6 483.9C581.5 482.2 580.0 482.7 583.3 483.2Z" fill="#ffffff"/>
<path d="M549.0 500.4C553.4 497.9 552.9 499.5 562.4 499.3C571.8 499.1 571.1 498.3 577.3 499.8C583.5 501.2 580.1 501.1 581.0 503.6C581.9 506.2 585.7 506.1 580.0 507.5C574.3 508.9 574.2 508.1 563.9 507.8C553.5 507.5 553.9 509.1 549.0 506.6C544.0 504.1 544.5 502.8 549.0 500.4Z" fill="#ffffff"/>
<path d="M603.9 533.9C603.9 535.3 604.0 534.8 603.3 536.0C602.6 537.2 603.0 536.8 601.8 537.5C600.6 538.2 601.1 538.1 599.7 538.1C598.3 538.1 598.8 538.2 597.6 537.5C596.4 536.8 596.8 537.2 596.1 536.0C595.4 534.8 595.5 535.3 595.5 533.9C595.5 532.5 595.4 533.0 596.1 531.8C596.8 530.6 596.4 531.0 597.6 530.3C598.8 529.6 598.3 529.7 599.7 529.7C601.1 529.7 600.6 529.6 601.8 530.3C603.0 531.0 602.6 530.6 603.3 531.8C604.0 533.0 603.9 532.5 603.9 533.9Z" fill="#ffffff"/>
<path d="M607.9 531.7C609.4 528.0 609.4 527.7 614.6 523.5C619.9 519.3 616.1 521.3 623.6 519.0C631.0 516.8 626.9 517.7 637.0 516.8C647.2 515.8 646.6 515.9 654.0 516.2C661.5 516.4 657.6 515.6 659.4 517.5C661.2 519.5 664.4 519.7 659.4 522.0C654.4 524.3 652.4 521.3 644.5 524.5C636.5 527.8 641.0 527.3 635.5 531.7C630.0 536.1 634.0 536.4 628.1 537.7C622.1 539.0 623.6 536.6 617.6 535.6C611.6 534.6 613.4 536.0 610.1 534.7C606.9 533.4 606.4 535.4 607.9 531.7Z" fill="#ffffff"/>
<path d="M588.6 466.0C588.6 466.9 588.7 466.5 588.3 467.3C587.8 468.1 588.1 467.8 587.3 468.3C586.5 468.7 586.9 468.6 586.0 468.6C585.1 468.6 585.5 468.7 584.7 468.3C583.9 467.8 584.2 468.1 583.7 467.3C583.3 466.5 583.4 466.9 583.4 466.0C583.4 465.1 583.3 465.5 583.7 464.7C584.2 463.9 583.9 464.2 584.7 463.7C585.5 463.3 585.1 463.4 586.0 463.4C586.9 463.4 586.5 463.3 587.3 463.7C588.1 464.2 587.8 463.9 588.3 464.7C588.7 465.5 588.6 465.1 588.6 466.0Z" fill="#ffffff"/>
<path d="M693.6 438.0C695.1 437.3 694.5 437.3 698.8 438.4C703.0 439.6 702.0 439.1 706.2 441.4C710.5 443.8 711.0 443.4 711.5 445.5C712.0 447.6 711.0 447.2 707.7 447.7C704.5 448.2 705.5 448.2 701.8 447.0C698.0 445.7 699.1 446.1 696.5 444.0C694.0 441.8 695.0 442.5 694.0 440.5C693.0 438.5 692.0 438.7 693.6 438.0Z" fill="#ffffff"/>
<path d="M733.9 405.9C735.3 403.7 735.3 402.2 737.6 405.2C739.8 408.1 738.7 408.1 740.6 414.9C742.5 421.6 741.4 418.3 743.3 425.3C745.1 432.3 744.1 430.2 746.2 435.8C748.3 441.3 747.9 441.0 749.5 442.0C751.1 443.0 751.0 442.8 751.0 438.7C751.0 434.7 750.8 436.8 749.5 429.8C748.3 422.8 748.5 424.8 747.3 417.9C746.0 410.9 745.5 413.9 745.8 408.9C746.0 403.9 745.8 405.2 748.0 402.9C750.3 400.7 750.0 399.2 752.5 402.2C755.0 405.2 753.8 404.7 755.5 411.9C757.2 419.1 756.7 416.4 757.7 423.8C758.7 431.3 759.0 428.3 758.5 434.3C758.0 440.2 757.7 437.5 756.2 441.7C754.7 446.0 753.8 443.0 754.0 447.0C754.2 450.9 756.2 449.4 757.0 453.7C757.7 457.9 757.1 455.2 756.2 459.6C755.3 464.1 755.8 462.6 754.3 467.1C752.8 471.6 753.9 470.1 751.8 473.1C749.7 476.1 750.8 475.3 748.0 476.1C745.3 476.8 746.3 476.8 743.6 475.3C740.8 473.8 742.6 475.3 739.8 471.6C737.1 467.9 737.3 468.1 735.3 464.1C733.4 460.1 733.1 462.1 733.9 459.6C734.6 457.2 734.3 458.6 737.6 456.7C740.8 454.7 741.3 456.7 743.6 453.7C745.8 450.7 744.8 451.7 744.3 447.7C743.8 443.7 744.0 446.7 742.1 441.7C740.1 436.8 740.6 439.2 738.3 432.8C736.1 426.3 737.1 429.3 735.3 422.3C733.6 415.4 733.6 417.4 733.1 411.9C732.6 406.4 732.4 408.1 733.9 405.9Z" fill="#ffffff"/>
<path d="M682.4 532.4C684.8 532.4 684.1 532.0 686.1 534.7C688.1 537.4 687.3 535.7 688.3 540.7C689.3 545.6 689.0 542.6 689.1 549.6C689.2 556.6 692.9 557.6 688.6 561.6C684.4 565.5 680.6 565.5 676.4 561.6C672.2 557.6 676.0 556.6 676.1 549.6C676.2 542.6 675.8 545.6 676.7 540.7C677.5 535.7 676.7 537.4 678.6 534.7C680.5 532.0 679.9 532.4 682.4 532.4Z" fill="#ffffff"/>
<path d="M668.9 483.9C670.9 484.2 670.7 483.9 671.9 486.9C673.2 489.9 673.2 489.7 672.7 492.9C672.2 496.1 672.2 495.6 670.4 496.6C668.7 497.6 669.0 497.6 667.4 495.9C665.8 494.1 666.1 494.6 665.6 491.4C665.1 488.2 664.8 488.7 665.9 486.2C667.0 483.7 666.9 483.7 668.9 483.9Z" fill="#ffffff"/>
<path d="M748.0 505.6C751.3 506.1 751.3 505.6 753.3 508.6C755.2 511.6 755.0 511.3 754.0 514.5C753.0 517.8 753.5 517.5 750.3 518.3C747.0 519.0 747.3 519.0 744.3 516.8C741.3 514.5 741.6 514.8 741.3 511.6C741.1 508.3 741.3 509.1 743.6 507.1C745.8 505.1 744.8 505.1 748.0 505.6Z" fill="#ffffff"/>
<path d="M739.1 519.0C741.7 518.9 741.8 519.0 743.3 521.3C744.7 523.5 744.7 523.5 743.6 525.7C742.4 528.0 742.4 527.9 739.8 528.0C737.2 528.1 737.3 528.2 735.8 526.0C734.3 523.9 734.2 523.9 735.3 521.6C736.4 519.2 736.4 519.1 739.1 519.0Z" fill="#ffffff"/>
<path d="M620.2 464.0C622.3 461.2 621.7 461.0 626.1 460.4C630.5 459.9 630.3 460.1 633.2 462.2C636.2 464.4 635.8 463.6 635.0 467.0C634.2 470.3 634.4 470.5 630.9 472.3C627.3 474.1 628.1 473.5 624.3 472.3C620.6 471.1 621.0 471.5 619.6 468.8C618.2 466.0 618.0 466.8 620.2 464.0Z" fill="#ffffff"/>
<path d="M666.5 486.0C667.5 482.4 667.5 482.6 669.5 483.0C671.4 483.4 671.4 483.6 672.4 487.2C673.4 490.7 673.4 490.1 672.4 493.7C671.4 497.3 671.4 497.9 669.5 497.9C667.5 497.9 667.5 497.7 666.5 493.7C665.5 489.7 665.5 489.5 666.5 486.0Z" fill="#ffffff"/>
<path d="M608.9 408.8C610.9 405.0 611.5 404.4 614.2 406.4C617.0 408.4 616.2 408.0 617.2 414.7C618.2 421.5 618.2 419.7 617.2 426.6C616.2 433.5 616.6 434.5 614.2 435.5C611.9 436.5 612.1 435.5 610.1 429.6C608.1 423.6 608.7 424.6 608.3 417.7C607.9 410.8 606.9 412.5 608.9 408.8Z" fill="#ffffff"/>
<path d="M644.5 411.8C647.1 409.8 647.3 409.8 647.5 414.7C647.7 419.7 647.3 419.1 645.1 426.6C642.9 434.1 643.5 434.3 641.0 437.3C638.4 440.3 637.8 441.0 637.4 435.5C637.0 430.0 637.4 428.6 639.8 420.7C642.1 412.7 641.9 413.7 644.5 411.8Z" fill="#ffffff"/>
<path d="M664.7 399.9C666.5 397.9 667.7 397.5 669.5 401.1C671.2 404.6 671.0 406.6 670.0 410.6C669.1 414.5 668.5 414.1 666.5 412.9C664.5 411.8 664.7 411.4 664.1 407.0C663.5 402.6 662.9 401.9 664.7 399.9Z" fill="#ffffff"/>
<path d="M692.0 402.8C693.8 401.1 695.0 399.9 696.8 403.4C698.6 407.0 698.6 409.6 697.4 413.5C696.2 417.5 695.2 416.9 693.2 415.3C691.2 413.7 691.8 412.9 691.4 408.8C691.0 404.6 690.2 404.6 692.0 402.8Z" fill="#ffffff"/>
<path d="M569.7 405.8C574.2 403.4 573.7 402.6 578.6 404.6C583.5 406.6 584.5 407.0 584.5 411.8C584.5 416.5 583.5 417.3 578.6 418.9C573.7 420.5 574.2 418.9 569.7 416.5C565.1 414.1 564.9 415.3 564.9 411.8C564.9 408.2 565.1 408.2 569.7 405.8Z" fill="#ffffff"/>
<path d="M551.9 432.5C554.8 427.0 555.8 427.6 560.8 429.6C565.7 431.5 566.7 432.5 566.7 438.5C566.7 444.4 565.7 444.8 560.8 447.4C555.8 450.0 554.8 451.1 551.9 446.2C548.9 441.2 548.9 438.1 551.9 432.5Z" fill="#ffffff"/>
</g>
<rect x="542" y="394" width="225" height="42" fill="url(#p3top)"/>
<path d="M540 395L570 394.6L600 395.4L630 394.6L660 395.2L690 394.4L715 395.6L745 395L768 396.5" fill="none" stroke="#a680e0" stroke-width="1.3"/>
<path d="M583.3 483.2C586.5 483.7 586.0 482.2 589.3 485.4C592.5 488.7 590.7 487.4 593.0 492.9C595.2 498.4 594.5 495.9 596.0 501.9C597.5 507.8 597.2 505.3 597.5 510.8C597.7 516.3 598.5 514.5 596.7 518.3C595.0 522.0 595.5 521.0 592.2 522.0C589.0 523.0 589.5 523.0 587.0 521.3C584.5 519.5 586.0 520.8 584.8 516.8C583.5 512.8 584.5 514.3 583.3 509.3C582.0 504.3 582.8 506.8 581.0 501.9C579.3 496.9 579.3 498.9 578.1 494.4C576.8 489.9 576.8 491.9 577.3 488.4C577.8 484.9 577.6 485.7 579.6 483.9C581.5 482.2 580.0 482.7 583.3 483.2Z" fill="none" stroke="#a680e0" stroke-width="2.08" stroke-linejoin="round" opacity="0.9"/>
<path d="M603.9 533.9C603.9 535.3 604.0 534.8 603.3 536.0C602.6 537.2 603.0 536.8 601.8 537.5C600.6 538.2 601.1 538.1 599.7 538.1C598.3 538.1 598.8 538.2 597.6 537.5C596.4 536.8 596.8 537.2 596.1 536.0C595.4 534.8 595.5 535.3 595.5 533.9C595.5 532.5 595.4 533.0 596.1 531.8C596.8 530.6 596.4 531.0 597.6 530.3C598.8 529.6 598.3 529.7 599.7 529.7C601.1 529.7 600.6 529.6 601.8 530.3C603.0 531.0 602.6 530.6 603.3 531.8C604.0 533.0 603.9 532.5 603.9 533.9Z" fill="none" stroke="#a680e0" stroke-width="1.28" stroke-linejoin="round" opacity="0.9"/>
<path d="M588.6 466.0C588.6 466.9 588.7 466.5 588.3 467.3C587.8 468.1 588.1 467.8 587.3 468.3C586.5 468.7 586.9 468.6 586.0 468.6C585.1 468.6 585.5 468.7 584.7 468.3C583.9 467.8 584.2 468.1 583.7 467.3C583.3 466.5 583.4 466.9 583.4 466.0C583.4 465.1 583.3 465.5 583.7 464.7C584.2 463.9 583.9 464.2 584.7 463.7C585.5 463.3 585.1 463.4 586.0 463.4C586.9 463.4 586.5 463.3 587.3 463.7C588.1 464.2 587.8 463.9 588.3 464.7C588.7 465.5 588.6 465.1 588.6 466.0Z" fill="none" stroke="#a680e0" stroke-width="1.12" stroke-linejoin="round" opacity="0.9"/>
<path d="M693.6 438.0C695.1 437.3 694.5 437.3 698.8 438.4C703.0 439.6 702.0 439.1 706.2 441.4C710.5 443.8 711.0 443.4 711.5 445.5C712.0 447.6 711.0 447.2 707.7 447.7C704.5 448.2 705.5 448.2 701.8 447.0C698.0 445.7 699.1 446.1 696.5 444.0C694.0 441.8 695.0 442.5 694.0 440.5C693.0 438.5 692.0 438.7 693.6 438.0Z" fill="none" stroke="#a680e0" stroke-width="1.12" stroke-linejoin="round" opacity="0.9"/>
<path d="M733.9 405.9C735.3 403.7 735.3 402.2 737.6 405.2C739.8 408.1 738.7 408.1 740.6 414.9C742.5 421.6 741.4 418.3 743.3 425.3C745.1 432.3 744.1 430.2 746.2 435.8C748.3 441.3 747.9 441.0 749.5 442.0C751.1 443.0 751.0 442.8 751.0 438.7C751.0 434.7 750.8 436.8 749.5 429.8C748.3 422.8 748.5 424.8 747.3 417.9C746.0 410.9 745.5 413.9 745.8 408.9C746.0 403.9 745.8 405.2 748.0 402.9C750.3 400.7 750.0 399.2 752.5 402.2C755.0 405.2 753.8 404.7 755.5 411.9C757.2 419.1 756.7 416.4 757.7 423.8C758.7 431.3 759.0 428.3 758.5 434.3C758.0 440.2 757.7 437.5 756.2 441.7C754.7 446.0 753.8 443.0 754.0 447.0C754.2 450.9 756.2 449.4 757.0 453.7C757.7 457.9 757.1 455.2 756.2 459.6C755.3 464.1 755.8 462.6 754.3 467.1C752.8 471.6 753.9 470.1 751.8 473.1C749.7 476.1 750.8 475.3 748.0 476.1C745.3 476.8 746.3 476.8 743.6 475.3C740.8 473.8 742.6 475.3 739.8 471.6C737.1 467.9 737.3 468.1 735.3 464.1C733.4 460.1 733.1 462.1 733.9 459.6C734.6 457.2 734.3 458.6 737.6 456.7C740.8 454.7 741.3 456.7 743.6 453.7C745.8 450.7 744.8 451.7 744.3 447.7C743.8 443.7 744.0 446.7 742.1 441.7C740.1 436.8 740.6 439.2 738.3 432.8C736.1 426.3 737.1 429.3 735.3 422.3C733.6 415.4 733.6 417.4 733.1 411.9C732.6 406.4 732.4 408.1 733.9 405.9Z" fill="none" stroke="#a680e0" stroke-width="0.96" stroke-linejoin="round" opacity="0.9"/>
<path d="M682.4 532.4C684.8 532.4 684.1 532.0 686.1 534.7C688.1 537.4 687.3 535.7 688.3 540.7C689.3 545.6 689.0 542.6 689.1 549.6C689.2 556.6 692.9 557.6 688.6 561.6C684.4 565.5 680.6 565.5 676.4 561.6C672.2 557.6 676.0 556.6 676.1 549.6C676.2 542.6 675.8 545.6 676.7 540.7C677.5 535.7 676.7 537.4 678.6 534.7C680.5 532.0 679.9 532.4 682.4 532.4Z" fill="none" stroke="#a680e0" stroke-width="1.60" stroke-linejoin="round" opacity="0.9"/>
<path d="M668.9 483.9C670.9 484.2 670.7 483.9 671.9 486.9C673.2 489.9 673.2 489.7 672.7 492.9C672.2 496.1 672.2 495.6 670.4 496.6C668.7 497.6 669.0 497.6 667.4 495.9C665.8 494.1 666.1 494.6 665.6 491.4C665.1 488.2 664.8 488.7 665.9 486.2C667.0 483.7 666.9 483.7 668.9 483.9Z" fill="none" stroke="#a680e0" stroke-width="0.64" stroke-linejoin="round" opacity="0.9"/>
<path d="M748.0 505.6C751.3 506.1 751.3 505.6 753.3 508.6C755.2 511.6 755.0 511.3 754.0 514.5C753.0 517.8 753.5 517.5 750.3 518.3C747.0 519.0 747.3 519.0 744.3 516.8C741.3 514.5 741.6 514.8 741.3 511.6C741.1 508.3 741.3 509.1 743.6 507.1C745.8 505.1 744.8 505.1 748.0 505.6Z" fill="none" stroke="#a680e0" stroke-width="0.64" stroke-linejoin="round" opacity="0.9"/>
<path d="M739.1 519.0C741.7 518.9 741.8 519.0 743.3 521.3C744.7 523.5 744.7 523.5 743.6 525.7C742.4 528.0 742.4 527.9 739.8 528.0C737.2 528.1 737.3 528.2 735.8 526.0C734.3 523.9 734.2 523.9 735.3 521.6C736.4 519.2 736.4 519.1 739.1 519.0Z" fill="none" stroke="#a680e0" stroke-width="0.48" stroke-linejoin="round" opacity="0.9"/>
<path d="M620.2 464.0C622.3 461.2 621.7 461.0 626.1 460.4C630.5 459.9 630.3 460.1 633.2 462.2C636.2 464.4 635.8 463.6 635.0 467.0C634.2 470.3 634.4 470.5 630.9 472.3C627.3 474.1 628.1 473.5 624.3 472.3C620.6 471.1 621.0 471.5 619.6 468.8C618.2 466.0 618.0 466.8 620.2 464.0Z" fill="none" stroke="#a680e0" stroke-width="0.48" stroke-linejoin="round" opacity="0.9"/>
<path d="M666.5 486.0C667.5 482.4 667.5 482.6 669.5 483.0C671.4 483.4 671.4 483.6 672.4 487.2C673.4 490.7 673.4 490.1 672.4 493.7C671.4 497.3 671.4 497.9 669.5 497.9C667.5 497.9 667.5 497.7 666.5 493.7C665.5 489.7 665.5 489.5 666.5 486.0Z" fill="none" stroke="#a680e0" stroke-width="0.80" stroke-linejoin="round" opacity="0.9"/>
<path d="M579.1 481.0C580.5 479.7 580.1 477.5 583.3 477.2C586.4 477.0 585.8 477.5 588.5 480.2C591.2 482.9 590.5 483.7 591.5 485.4" fill="none" stroke="#a680e0" stroke-width="4.5" stroke-linecap="round" opacity="0.9"/>
<path d="M596.0 494.4C597.1 497.9 597.9 497.9 599.4 504.8C600.9 511.8 600.8 509.3 600.4 515.3C600.0 521.3 600.9 519.3 598.2 522.7C595.5 526.2 594.2 524.7 592.2 525.7" fill="none" stroke="#a680e0" stroke-width="2.6" stroke-linecap="round" opacity="0.9"/>
<path d="M559.4 498.6C562.9 498.2 563.6 497.3 569.9 497.4C576.1 497.5 575.3 498.4 578.1 498.9" fill="none" stroke="#a680e0" stroke-width="1.8" stroke-linecap="round" opacity="0.9"/>
<path d="M560.1 509.0C563.4 509.4 562.6 509.4 569.9 510.1C577.1 510.8 576.6 508.9 581.8 511.1C587.0 513.3 583.0 512.6 585.5 516.8C588.0 520.9 588.0 521.3 589.3 523.5" fill="none" stroke="#a680e0" stroke-width="2.6" stroke-linecap="round" opacity="0.9"/>
<path d="M604.2 530.5C607.7 526.8 608.2 525.9 614.6 519.5C621.1 513.0 618.1 516.7 623.6 511.1C629.1 505.5 628.6 505.4 631.0 502.6" fill="none" stroke="#a680e0" stroke-width="2.8" stroke-linecap="round" opacity="0.8"/>
<path d="M592.2 525.7C593.7 527.0 593.2 528.5 596.7 529.5C600.2 530.5 600.7 529.0 602.7 528.7" fill="none" stroke="#a680e0" stroke-width="3.0" stroke-linecap="round" opacity="0.9"/>
<path d="M605.7 535.4C609.7 536.1 610.1 536.0 617.6 537.4C625.1 538.7 623.1 537.9 628.1 539.5C633.0 541.1 631.0 541.3 632.5 542.1" fill="none" stroke="#a680e0" stroke-width="2.0" stroke-linecap="round" opacity="0.9"/>
<path d="M620.6 526.0C622.1 526.3 622.1 527.0 625.1 526.9C628.1 526.8 628.1 526.1 629.6 525.7" fill="none" stroke="#a680e0" stroke-width="2.2" stroke-linecap="round" opacity="0.9"/>
<path d="M694.3 440.5C695.8 442.7 694.8 443.9 698.8 447.1C702.8 450.3 702.0 449.8 706.2 450.1C710.5 450.4 710.0 446.8 711.6 448.0C713.2 449.2 711.2 451.8 711.0 453.7" fill="none" stroke="#a680e0" stroke-width="2.4" stroke-linecap="round" opacity="0.9"/>
<path d="M734.3 444.4C736.1 444.1 736.2 442.8 739.8 443.5C743.4 444.2 743.6 443.3 745.0 446.5C746.5 449.7 746.6 449.8 744.1 453.1C741.7 456.4 741.4 454.3 737.6 456.4C733.8 458.4 733.8 456.8 732.8 459.3C731.8 461.9 731.8 460.6 734.6 464.1C737.4 467.6 736.8 466.1 741.3 469.8C745.8 473.5 744.2 474.7 748.0 475.3C751.9 475.9 751.2 472.8 752.8 471.6" fill="none" stroke="#a680e0" stroke-width="3.2" stroke-linecap="round" opacity="0.9"/>
<path d="M757.0 453.7C756.9 455.7 757.6 455.2 756.7 459.6C755.8 464.1 755.1 464.6 754.3 467.1" fill="none" stroke="#a680e0" stroke-width="1.6" stroke-linecap="round" opacity="0.9"/>
<path d="M569.1 536.5C573.4 532.9 572.3 534.2 579.1 533.8C585.9 533.4 583.3 532.1 589.6 535.3C595.8 538.5 593.7 538.4 597.9 543.3C602.1 548.3 600.2 544.1 602.1 550.2C604.0 556.3 616.0 557.8 603.6 561.6C591.1 565.3 577.3 567.2 564.8 561.6C552.3 555.9 564.7 552.9 566.1 544.5C567.6 536.2 564.8 540.1 569.1 536.5Z" fill="#c494ec" stroke="#a680e0" stroke-width="1.7"/>
<path d="M571.6 539.5C574.9 536.1 573.5 537.6 579.1 537.4C584.7 537.2 583.1 536.2 588.4 538.9C593.6 541.6 591.5 541.2 594.9 545.4C598.3 549.7 597.0 546.3 598.5 551.7C600.0 557.1 609.4 558.3 599.4 561.6C589.5 564.8 578.7 566.2 568.7 561.6C558.6 556.9 568.3 554.9 569.3 547.5C570.2 540.2 568.4 542.8 571.6 539.5Z" fill="#e084cc" filter="url(#soft3)"/>
<path d="M724.1 561.6C711.2 557.6 726.1 556.6 734.6 549.6C743.1 542.6 739.3 545.4 749.5 540.7C759.7 535.9 757.2 537.4 765.2 535.4C773.2 533.4 770.7 526.0 773.4 534.7C776.1 543.4 789.8 552.6 773.4 561.6C757.0 570.5 737.1 565.5 724.1 561.6Z" fill="#c494ec" opacity="0.85" filter="url(#soft3)"/>
<path d="M737.6 561.6C729.6 558.1 740.3 556.6 749.5 551.1C758.7 545.6 757.2 547.6 765.2 545.1C773.2 542.6 770.7 538.2 773.4 543.6C776.1 549.1 785.3 555.6 773.4 561.6C761.5 567.5 745.5 565.0 737.6 561.6Z" fill="#e080d0" filter="url(#soft3)"/>
</g>
<text x="737.6" y="173.6" font-size="12.7" text-anchor="middle" stroke="#111" stroke-width="0.18">x20</text>
<text x="739.1" y="359.4" font-size="12.7" text-anchor="middle" stroke="#111" stroke-width="0.18">x20</text>
<text x="740.3" y="547.6" font-size="12.7" text-anchor="middle" stroke="#111" stroke-width="0.18">x20</text>
</g>
</svg></body></html>
